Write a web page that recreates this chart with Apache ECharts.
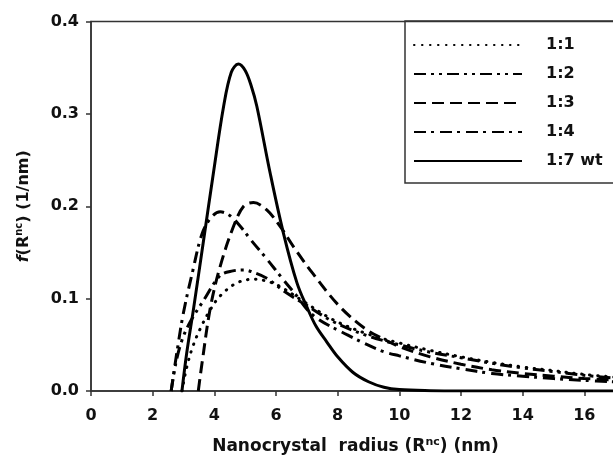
<!DOCTYPE html>
<html>
<head>
<meta charset="utf-8">
<script src="https://cdn.jsdelivr.net/npm/echarts@6/dist/echarts.min.js"></script>
<style>
  html, body { margin: 0; padding: 0; background: #fff; }
  #chart { width: 613px; height: 466px; }
</style>
</head>
<body>
<div id="chart"></div>
<script>
// series names (legend)
var names = ['1:1', '1:2', '1:3', '1:4', '1:7 wt'];

// [radius nm, f(R)]
var r11 = [[2.95,0],[3.1,0.025],[3.3,0.048],[3.55,0.068],[3.87,0.088],[4.19,0.103],[4.73,0.117],[5.27,0.121],
  [5.7,0.119],[6.14,0.113],[6.89,0.097],[7.86,0.077],[8.95,0.062],[10,0.052],[11,0.044],[12,0.037],
  [13,0.031],[14,0.026],[15,0.022],[16,0.018],[17,0.015]];
var r12 = [[2.6,0],[2.75,0.03],[2.95,0.055],[3.22,0.075],[3.65,0.098],[4.19,0.125],[4.6,0.13],[4.95,0.131],
  [5.3,0.128],[5.7,0.122],[6.35,0.106],[6.89,0.095],[7.86,0.075],[8.95,0.06],[10,0.05],[11,0.042],
  [12,0.036],[13,0.03],[14,0.025],[15,0.021],[16,0.017],[17,0.014]];
var r13 = [[3.48,0],[3.6,0.03],[3.87,0.09],[4.19,0.135],[4.62,0.178],[4.95,0.2],[5.27,0.204],[5.7,0.196],
  [6.14,0.178],[6.57,0.156],[7.2,0.127],[8.08,0.091],[8.95,0.066],[9.5,0.056],[10,0.048],[11,0.037],
  [12,0.029],[13,0.023],[14,0.019],[15,0.016],[16,0.0135],[17,0.012]];
var r14 = [[2.6,0],[2.8,0.045],[3.0,0.085],[3.3,0.13],[3.6,0.17],[3.9,0.188],[4.19,0.194],[4.5,0.19],
  [4.8,0.18],[5.2,0.163],[5.7,0.143],[6.2,0.122],[6.6,0.106],[7.2,0.082],[8.3,0.061],[9.38,0.044],[10,0.038],
  [11,0.03],[12,0.024],[13,0.019],[14,0.016],[15,0.0135],[16,0.0115],[17,0.01]];
var r17 = [[2.95,0],[3.1,0.04],[3.33,0.09],[3.65,0.163],[3.97,0.236],[4.3,0.308],[4.55,0.345],[4.78,0.354],
  [5.0,0.347],[5.2,0.33],[5.38,0.308],[5.81,0.236],[6.24,0.171],[6.68,0.117],[7.0,0.091],[7.3,0.07],
  [7.65,0.053],[8.0,0.037],[8.5,0.02],[9.0,0.01],[9.5,0.004],[10,0.0015],[11,0.0003],[12,0],[17,0]];

var allData = [r11, r12, r13, r14, r17];
var dashes = [[0.5, 7.5], [12, 5, 3, 5, 3, 5], [12, 6], [12, 5, 3, 6], 'solid'];

var FONT = 'DejaVu Sans';
var ink = '#111';

var chart = echarts.init(document.getElementById('chart'));

var series = [];
for (var i = 0; i < names.length; i++) {
    series.push({
        name: names[i],
        type: 'line',
        data: allData[i],
        symbol: 'none',
        showSymbol: false,
        smooth: 0.35,
        lineStyle: {
            color: '#000',
            width: 3,
            type: dashes[i],
            cap: i === 0 ? 'round' : 'butt'
        },
        itemStyle: { color: '#000' }
    });
}

chart.setOption({
    animation: false,
    grid: {
        left: 91, top: 21.5, width: 555, height: 369.5,
        outerBoundsMode: 'none',
        containLabel: false,
        show: true, borderColor: '#333', borderWidth: 1.5
    },
    legend: {
        orient: 'vertical',
        left: 405, top: 21,
        padding: [16, 140, 14, 8],
        borderColor: '#333', borderWidth: 1.5,
        itemWidth: 108, itemHeight: 14, itemGap: 13,
        itemStyle: { opacity: 0 },
        textStyle: { fontFamily: FONT, fontWeight: 'bold', fontSize: 16, color: ink, padding: [0, 0, 0, 19] },
        data: names
    },
    xAxis: {
        type: 'value',
        min: 0, max: 18, interval: 2,
        name: '{n|Nanocrystal  radius (R}{s|nc}{n|) (nm)}',
        nameLocation: 'middle',
        nameGap: 46,
        nameTextStyle: {
            padding: [0, 26, 0, 0],
            rich: {
                n: { fontFamily: FONT, fontWeight: 'bold', fontSize: 17, color: ink },
                s: { fontFamily: FONT, fontWeight: 'bold', fontSize: 11, color: ink, padding: [0, 0, 9, 0] }
            }
        },
        axisLine: { lineStyle: { color: '#333', width: 1.5 } },
        axisTick: { inside: false, length: 5, lineStyle: { color: '#333', width: 1.5 } },
        axisLabel: { margin: 17, fontFamily: FONT, fontWeight: 'bold', fontSize: 16, color: ink },
        splitLine: { show: false }
    },
    yAxis: {
        type: 'value',
        min: 0, max: 0.4, interval: 0.1,
        name: '{i|f}{n|(R}{s|nc}{n|) (1/nm)}',
        nameLocation: 'middle',
        nameRotate: 90,
        nameGap: 58,
        nameTextStyle: {
            rich: {
                i: { fontFamily: FONT, fontWeight: 'bold', fontStyle: 'italic', fontSize: 16, color: ink },
                n: { fontFamily: FONT, fontWeight: 'bold', fontSize: 16, color: ink },
                s: { fontFamily: FONT, fontWeight: 'bold', fontSize: 10, color: ink, padding: [0, 0, 9, 0] }
            }
        },
        axisLine: { show: true, lineStyle: { color: '#333', width: 1.5 } },
        axisTick: { show: true, length: 5, lineStyle: { color: '#333', width: 1.5 } },
        axisLabel: {
            margin: 12, fontFamily: FONT, fontWeight: 'bold', fontSize: 16, color: ink,
            formatter: function (v) { return v.toFixed(1); }
        },
        splitLine: { show: false }
    },
    series: series
});
</script>
</body>
</html>
